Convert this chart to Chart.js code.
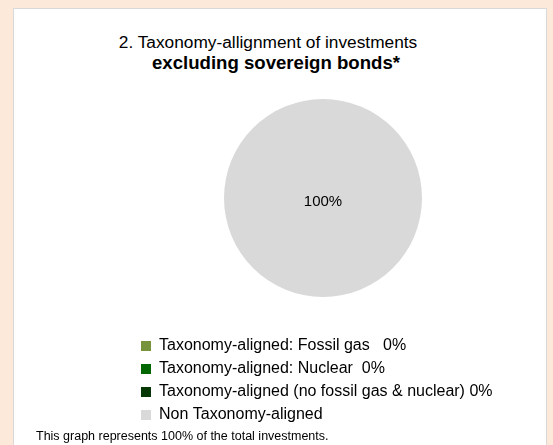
<!DOCTYPE html>
<html>
<head>
<meta charset="utf-8">
<script src="https://cdn.jsdelivr.net/npm/chart.js@4.4.1/dist/chart.umd.min.js"></script>
<style>
  html, body { margin: 0; padding: 0; }
  body { width: 553px; height: 445px; background: #fde9d9; position: relative; overflow: hidden; font-family: "Liberation Sans", Arial, sans-serif; }
  #panel { position: absolute; left: 13px; top: 8px; width: 534px; height: 445px; background: #fff; border: 1px solid #d9d9d9; box-sizing: border-box; }
  .tline { position: absolute; text-align: center; color: #000; white-space: nowrap; }
  #t1 { left: 0; width: 536px; top: 32px; font-size: 17.3px; line-height: 21px; }
  #t2 { left: 0; width: 552px; top: 52px; font-size: 18.6px; line-height: 22px; font-weight: bold; }
  #note { position: absolute; left: 36px; top: 429px; font-size: 12.5px; line-height: 15px; color: #000; white-space: nowrap; }
  #wrap { position: absolute; left: 134px; top: 65px; width: 378px; height: 368px; }
</style>
</head>
<body>
<div id="panel"></div>
<div id="t1" class="tline">2. Taxonomy-allignment of investments</div>
<div id="t2" class="tline">excluding sovereign bonds*</div>
<div id="wrap"><canvas id="pieChart"></canvas></div>
<div id="note">This graph represents 100% of the total investments.</div>

<script>
// ข้อมูล
const categories = [
    'Taxonomy-aligned: Fossil gas',
    'Taxonomy-aligned: Nuclear',
    'Taxonomy-aligned (no fossil gas & nuclear)',
    'Non Taxonomy-aligned'
];
const shares = [0, 0, 0, 100];
const sliceColors = ['#77933c', '#006600', '#063806', '#d9d9d9'];
const zeroGaps = ['   ', '  ', ' ', ''];

// ป้าย % บนชิ้นพาย
const sliceLabels = {
    id: 'sliceLabels',
    afterDatasetsDraw(chart) {
        const { ctx } = chart;
        const meta = chart.getDatasetMeta(0);
        const total = shares.reduce((a, b) => a + b, 0);
        ctx.save();
        ctx.font = '15px "Liberation Sans", Arial, sans-serif';
        ctx.fillStyle = '#000';
        ctx.textAlign = 'center';
        ctx.textBaseline = 'middle';
        meta.data.forEach((arc, i) => {
            if (!shares[i]) return;
            const p = shares[i] === total ? { x: arc.x, y: arc.y + 4 } : arc.tooltipPosition();
            ctx.fillText(shares[i] + '%', p.x, p.y);
        });
        ctx.restore();
    }
};

const ctxPie = document.getElementById('pieChart');
new Chart(ctxPie, {
    type: 'pie',
    data: {
        labels: categories,
        datasets: [{ data: shares, backgroundColor: sliceColors, borderWidth: 0 }]
    },
    options: {
        responsive: true,
        maintainAspectRatio: false,
        animation: false,
        radius: 99,
        layout: { padding: 0 },
        plugins: {
            tooltip: { enabled: false },
            legend: {
                position: 'bottom',
                align: 'start',
                labels: {
                    boxWidth: 10,
                    boxHeight: 10,
                    padding: 7,
                    color: '#000',
                    font: { family: '"Liberation Sans", Arial, sans-serif', size: 16 },
                    generateLabels: (chart) => categories.map((c, i) => ({
                        text: c + (shares[i] === 0 ? zeroGaps[i] + '0%' : ''),
                        fillStyle: sliceColors[i],
                        strokeStyle: sliceColors[i],
                        lineWidth: 0,
                        hidden: false,
                        index: i
                    }))
                }
            }
        }
    },
    plugins: [sliceLabels]
});
</script>
</body>
</html>
